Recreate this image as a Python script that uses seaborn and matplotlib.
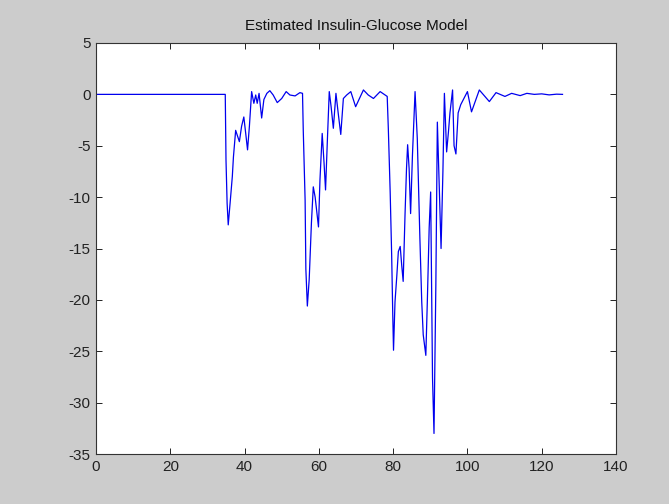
import matplotlib
matplotlib.use("Agg")
import matplotlib.pyplot as plt
import seaborn as sns
import pandas as pd

# Traced vertices of the estimated insulin-glucose response
x_vals = [0, 34.8, 35.0, 35.3, 35.6, 36.1, 36.7, 37.0, 37.6, 38.6, 39.2, 39.8, 40.4, 40.8,
          41.3, 41.9, 42.5, 43.0, 43.4, 43.9, 44.6, 45.2, 46.0, 46.8, 47.7, 48.8, 50.0,
          51.2, 52.2, 53.6, 54.9, 55.6, 55.8, 56.3, 56.5, 56.9, 57.4, 58.0, 58.5, 59.0,
          59.9, 60.3, 60.9, 61.4, 61.8, 62.3, 62.8, 63.3, 63.9, 64.6, 65.2, 65.9, 66.6,
          67.5, 68.6, 69.9, 72.0, 73.3, 74.7, 76.5, 78.4, 78.7, 79.2, 79.6, 79.9, 80.1,
          80.5, 81.0, 81.4, 81.9, 82.3, 82.7, 83.2, 83.6, 83.9, 84.3, 84.7, 85.2, 85.9,
          86.5, 87.2, 87.7, 88.1, 88.8, 89.2, 89.7, 90.1, 90.6, 91.0, 91.5, 91.9, 92.4,
          92.9, 93.4, 93.8, 94.4, 94.9, 95.3, 96.0, 96.4, 96.9, 97.5, 98.2, 100.0, 101.1,
          103.2, 105.9, 107.7, 110.1, 111.9, 114.2, 116.0, 118.0, 120.0, 122.0, 124.0, 125.6]
y_vals = [0, 0, -6.4, -10.6, -12.7, -10.6, -8.0, -6.1, -3.5, -4.6, -3.1, -2.2, -4.1, -5.4,
          -3.1, 0.27, -0.87, -0.06, -0.87, 0.1, -2.3, -0.5, 0.1, 0.36, -0.06, -0.8, -0.4,
          0.27, -0.06, -0.15, 0.17, 0.1, -3.5, -10.3, -17.0, -20.6, -18.0, -12.5, -9.0, -10.0,
          -12.9, -8.3, -3.8, -6.7, -9.3, -4.4, 0.27, -1.2, -3.3, 0.1, -1.8, -3.9, -0.4,
          -0.06, 0.27, -1.2, 0.43, -0.06, -0.4, 0.27, -0.2, -3.3, -9.5, -15.6, -21.5, -24.9,
          -20.2, -17.6, -15.3, -14.8, -16.6, -18.2, -11.7, -7.2, -4.9, -7.2, -11.6, -5.9, 0.27,
          -4.3, -14.0, -20.2, -23.4, -25.4, -20.2, -13.0, -9.5, -27.6, -33.0, -18.5, -2.7, -8.8,
          -15.0, -7.5, 0.1, -5.6, -3.6, -1.8, 0.43, -5.0, -5.8, -1.8, -1.0, 0.27, -1.7,
          0.43, -0.7, 0.17, -0.2, 0.1, -0.12, 0.1, 0.0, 0.05, -0.05, 0.02, 0.0]

x_ticks = [0, 20, 40, 60, 80, 100, 120, 140]
y_ticks = [-35, -30, -25, -20, -15, -10, -5, 0, 5]
title_text = "Estimated Insulin-Glucose Model"

df = pd.DataFrame({"t": x_vals, "v": y_vals})

plt.rcParams['font.family'] = ['Liberation Sans', 'DejaVu Sans']
plt.rcParams['axes.unicode_minus'] = False
fig = plt.figure(figsize=(6.69, 5.04), dpi=100, facecolor='#cccccc')
ax = fig.add_axes([96/669, 50/504, 520/669, 411/504])
ax.set_facecolor('white')

sns.lineplot(data=df, x="t", y="v", ax=ax, sort=False, estimator=None,
             color='#0000ee', linewidth=0.9)

ax.set_xlim(0, 140)
ax.set_ylim(-35, 5)
ax.set_xticks(x_ticks)
ax.set_yticks(y_ticks)
ax.set_xlabel("")
ax.set_ylabel("")
ax.tick_params(direction='in', top=True, right=True, length=4, width=0.7,
               labelsize=11, colors='#222222', pad=4)
for s in ax.spines.values():
    s.set_linewidth(0.8)
    s.set_color('#333333')
ax.set_title(title_text, fontsize=11, pad=9, color='#111111')

fig.savefig("out.png", dpi=100, facecolor=fig.get_facecolor())
